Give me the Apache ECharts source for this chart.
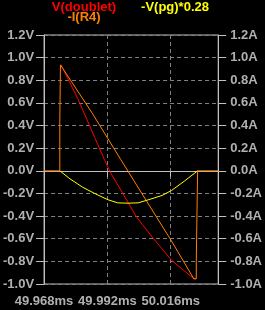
<!DOCTYPE html>
<html><head><meta charset="utf-8">
<script src="https://cdn.jsdelivr.net/npm/echarts@6/dist/echarts.min.js"></script>
<style>html,body{margin:0;padding:0;background:#000;}#c{width:265px;height:310px;}</style>
</head><body><div id="c"></div>
<script>
// time in ms
const xTicks = [49.968, 49.992, 50.016];
const yTicks = [-1.0, -0.8, -0.6, -0.4, -0.2, 0.0, 0.2, 0.4, 0.6, 0.8, 1.0, 1.2];
const seriesNames = ['V(doublet)', '-I(R4)', '-V(pg)*0.28'];

const doubletT = [49.97443, 49.98082, 49.98742, 49.99103, 49.99345, 49.99706, 50.00309, 50.00908, 50.01630, 50.02475, 50.02558];
const doubletV = [0.936, 0.636, 0.283, 0.090, -0.027, -0.168, -0.410, -0.587, -0.790, -0.954, -0.954];

const r4T = [49.968, 49.97396, 49.97396, 49.97421, 49.97421, 49.97443, 49.98623, 49.99706, 50.00670, 50.01630, 50.02475, 50.02569, 50.02569, 50.02619, 50.02619, 50.034];
const r4I = [0, 0, 0.44, 0.44, 0.936, 0.940, 0.510, 0.100, -0.262, -0.620, -0.954, -0.954, -0.800, -0.800, 0, 0];

const pgT = [49.97396, 49.97782, 49.98262, 49.98742, 49.99226, 49.99587, 49.99980, 50.00367, 50.00670, 50.01269, 50.01630, 50.02114, 50.02619];
const pgV = [0, -0.071, -0.145, -0.203, -0.256, -0.283, -0.286, -0.283, -0.262, -0.218, -0.174, -0.092, 0];

const zip = (a, b) => a.map((t, i) => [t, b[i]]);
const FONT = 'Arial, "Liberation Sans", sans-serif';
const labelFont = {color: '#b0b0b0', fontFamily: FONT, fontWeight: 'bold', fontSize: 13};

const chart = echarts.init(document.getElementById('c'), null, {renderer: 'canvas'});
chart.setOption({
  backgroundColor: '#000',
  animation: false,
  title: [
    {text: seriesNames[0], left: 84, top: 1, padding: 0, textAlign: 'center', textStyle: {color: '#ff0000', fontFamily: FONT, fontWeight: 'bold', fontSize: 13}},
    {text: seriesNames[1], left: 84, top: 11, padding: 0, textAlign: 'center', textStyle: {color: '#ff8000', fontFamily: FONT, fontWeight: 'bold', fontSize: 13}},
    {text: seriesNames[2], left: 175, top: 1, padding: 0, textAlign: 'center', textStyle: {color: '#ffff00', fontFamily: FONT, fontWeight: 'bold', fontSize: 13}}
  ],
  grid: {left: 40, top: 35, width: 182, height: 249, show: true, borderColor: '#c0c0c0', borderWidth: 1, backgroundColor: 'transparent'},
  xAxis: {
    type: 'value', min: xTicks[0], max: 50.034, interval: 0.024,
    axisLine: {show: true, lineStyle: {color: '#c0c0c0'}},
    axisTick: {show: true, length: 6, lineStyle: {color: '#c0c0c0'}},
    axisLabel: Object.assign({margin: 11, formatter: v => v.toFixed(3) + 'ms', showMaxLabel: false}, labelFont),
    splitLine: {show: true, lineStyle: {color: '#808080', type: [4, 3]}}
  },
  yAxis: [
    {
      type: 'value', min: yTicks[0], max: yTicks[yTicks.length - 1], interval: 0.2, position: 'left',
      axisLine: {show: true, lineStyle: {color: '#c0c0c0'}},
      axisTick: {show: true, length: 8, lineStyle: {color: '#c0c0c0'}},
      axisLabel: Object.assign({margin: 10, formatter: v => v.toFixed(1) + 'V'}, labelFont),
      splitLine: {show: true, lineStyle: {color: '#808080', type: [4, 3]}}
    },
    {
      type: 'value', min: yTicks[0], max: yTicks[yTicks.length - 1], interval: 0.2, position: 'right',
      axisLine: {show: true, lineStyle: {color: '#c0c0c0'}},
      axisTick: {show: true, length: 8, lineStyle: {color: '#c0c0c0'}},
      axisLabel: Object.assign({margin: 12, formatter: v => v.toFixed(1) + 'A'}, labelFont),
      splitLine: {show: false}
    }
  ],
  series: [
    {name: seriesNames[0], type: 'line', data: zip(doubletT, doubletV), showSymbol: false, lineStyle: {color: '#ff0000', width: 1}, z: 2},
    {name: seriesNames[1], type: 'line', data: zip(r4T, r4I), showSymbol: false, lineStyle: {color: '#ff8000', width: 1}, z: 3},
    {name: seriesNames[2], type: 'line', data: zip(pgT, pgV), showSymbol: false, lineStyle: {color: '#ffff00', width: 1}, z: 4}
  ]
});
</script>
</body></html>
